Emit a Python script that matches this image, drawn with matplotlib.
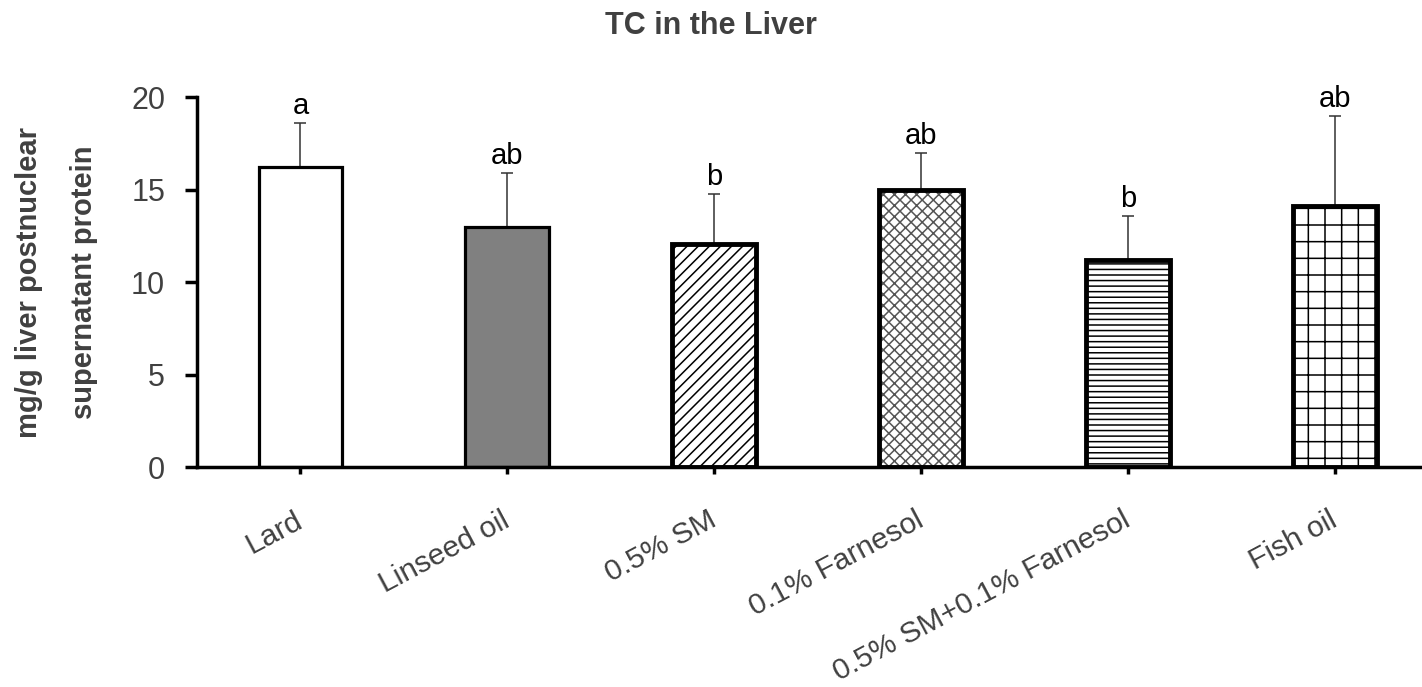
import matplotlib
matplotlib.use("Agg")
import matplotlib.pyplot as plt
import numpy as np

# === data ===
groups = ["Lard", "Linseed oil", "0.5% SM", "0.1% Farnesol",
          "0.5% SM+0.1% Farnesol", "Fish oil"]
means = [16.2, 12.95, 12.05, 14.95, 11.2, 14.1]
sd = [2.4, 2.95, 2.72, 2.05, 2.38, 4.9]
letters = ["a", "ab", "b", "ab", "b", "ab"]

# === style per bar ===
fills = ["white", "#808080", "white", "white", "white", "white"]
hatches = [None, None, "///", "xxx", "---", "+"]
hatch_colors = ["black", "black", "black", "#555555", "black", "black"]
edge_w = [2.3, 2.3, 3.5, 3.5, 3.5, 3.5]

plt.rcParams["font.family"] = ["Liberation Sans", "DejaVu Sans"]
plt.rcParams["hatch.linewidth"] = 1.1

fig = plt.figure(figsize=(14.22, 6.87), dpi=100)
ax = fig.add_axes([0.1385, 0.3202, 1.0 - 0.1385, 0.8588 - 0.3202])

x = np.arange(len(groups))
width = 0.405

# hatch layer, then outline on top
for i in range(len(groups)):
    ax.bar(x[i], means[i], width, color=fills[i], edgecolor=hatch_colors[i],
           hatch=hatches[i], linewidth=0, zorder=2)
    ax.bar(x[i], means[i], width, facecolor="none", edgecolor="black",
           linewidth=edge_w[i], zorder=3)

ax.errorbar(x, means, yerr=[np.zeros(len(sd)), sd], fmt="none",
            ecolor="#333333", elinewidth=1.1, capsize=4, capthick=1.1, zorder=1)

for i in range(len(groups)):
    ax.annotate(letters[i], (x[i], means[i] + sd[i]), xytext=(0, 2),
                textcoords="offset points", ha="center", va="bottom",
                fontsize=21, color="black", annotation_clip=False)

ax.set_xlim(-0.5, 5.42)
ax.set_ylim(0, 20)
ax.set_yticks([0, 5, 10, 15, 20])
ax.set_xticks(x)
ax.set_xticklabels(groups, rotation=28, ha="right", va="center",
                   rotation_mode="anchor", fontsize=21.5, color="#404040")
ax.tick_params(axis="x", direction="out", length=5, width=2.5, pad=32)
ax.tick_params(axis="y", direction="out", length=9, width=2.5, pad=14,
               labelsize=22, labelcolor="#404040")

for s in ["top", "right"]:
    ax.spines[s].set_visible(False)
for s in ["left", "bottom"]:
    ax.spines[s].set_linewidth(2.5)

ax.set_ylabel("mg/g liver postnuclear\nsupernatant protein", fontsize=21,
              fontweight="bold", color="#404040", labelpad=24,
              linespacing=2.2)

fig.text(0.5, 0.962, "TC in the Liver", ha="center", va="center",
         fontsize=22, fontweight="bold", color="#404040")

fig.savefig("out.png", dpi=100)
